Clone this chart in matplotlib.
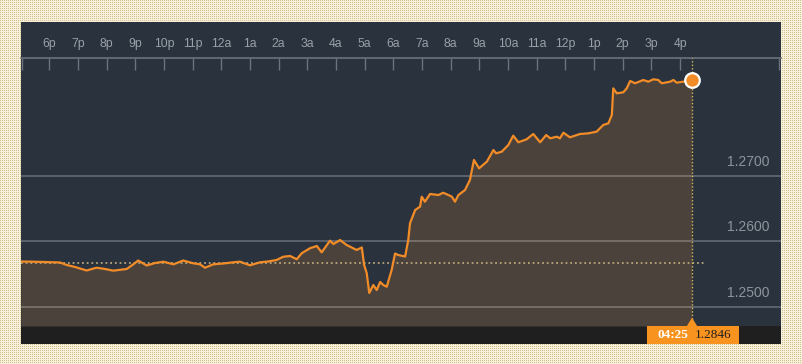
"""GBP-style intraday line chart with shaded area, dark theme."""
import matplotlib
matplotlib.use("Agg")
import matplotlib.pyplot as plt
import matplotlib.patches as mpatches
import matplotlib.transforms as mtrans
import numpy as np

# ── data: hours after 6p, price ───────────────────────────────────────────────
hours = [-0.99, -0.57, -0.15, 0.37, 0.61, 0.90, 1.30, 1.65, 1.94, 2.23,
         2.70, 2.93, 3.10, 3.40, 3.69, 3.98, 4.33, 4.67, 5.02, 5.26,
         5.43, 5.72, 6.06, 6.42, 6.65, 7.00, 7.35, 7.63, 7.93, 8.16,
         8.40, 8.63, 8.80, 9.09, 9.33, 9.50, 9.79, 9.91, 10.14, 10.37,
         10.72, 10.90, 10.98, 11.07, 11.16, 11.30, 11.42, 11.54, 11.65, 11.77,
         11.94, 12.06, 12.17, 12.41, 12.52, 12.58, 12.76, 12.93, 12.99, 13.10,
         13.28, 13.57, 13.74, 13.92, 14.04, 14.15, 14.27, 14.50, 14.67, 14.81,
         14.99, 15.26, 15.49, 15.58, 15.78, 16.01, 16.18, 16.36, 16.65, 16.88,
         17.12, 17.33, 17.47, 17.70, 17.81, 17.93, 18.16, 18.51, 18.80, 19.09,
         19.32, 19.50, 19.62, 19.67, 19.79, 20.02, 20.14, 20.26, 20.43, 20.72,
         20.89, 21.07, 21.24, 21.36, 21.65, 21.77, 21.88, 22.11, 22.417]
price = [1.25687, 1.25684, 1.25679, 1.25672, 1.25634, 1.25603, 1.25550, 1.25592, 1.25573, 1.25547,
         1.25573, 1.25644, 1.25702, 1.25626, 1.25664, 1.25684, 1.25644, 1.25702, 1.25660, 1.25644,
         1.25592, 1.25644, 1.25656, 1.25675, 1.25684, 1.25629, 1.25675, 1.25687, 1.25710, 1.25760,
         1.25771, 1.25721, 1.25812, 1.25889, 1.25924, 1.25827, 1.26005, 1.25954, 1.26015, 1.25939,
         1.25863, 1.25901, 1.25634, 1.25511, 1.25206, 1.25328, 1.25252, 1.25374, 1.25328, 1.25302,
         1.25557, 1.25809, 1.25786, 1.25763, 1.26015, 1.26270, 1.26473, 1.26524, 1.26676, 1.26600,
         1.26718, 1.26702, 1.26737, 1.26702, 1.26676, 1.26600, 1.26702, 1.26779, 1.26931, 1.27237,
         1.27110, 1.27211, 1.27389, 1.27339, 1.27363, 1.27466, 1.27608, 1.27507, 1.27553, 1.27634,
         1.27507, 1.27618, 1.27568, 1.27592, 1.27568, 1.27653, 1.27583, 1.27634, 1.27644, 1.27669,
         1.27771, 1.27797, 1.27924, 1.28331, 1.28255, 1.28270, 1.28331, 1.28443, 1.28408, 1.28458,
         1.28432, 1.28469, 1.28458, 1.28408, 1.28432, 1.28458, 1.28417, 1.28432, 1.2846]
prev_close = 1.2566
last_time = "04:25"
last_price = "1.2846"
hour_ticks = list(range(23))
hour_labels = ["6p", "7p", "8p", "9p", "10p", "11p", "12a", "1a", "2a", "3a", "4a", "5a",
               "6a", "7a", "8a", "9a", "10a", "11a", "12p", "1p", "2p", "3p", "4p"]
y_levels = [1.2500, 1.2600, 1.2700]

PAL = {"panel": "#2a323d", "strip": "#1f1f1f", "fill": "#4b423b", "line": "#f28c28",
       "tick": "#6c727b", "label": "#9aa0a8", "ylabel": "#8e949c", "dot": "#b9a57a",
       "vdot": "#d2b65c", "cream": "#f7f0da", "tan": "#d3bf8f", "box": "#f7931e"}

W, H = 803, 364
fig = plt.figure(figsize=(W / 100, H / 100), dpi=100)

# background with dotted paper texture + dark panel (pixel coords)
def rgb(h):
    return np.array(matplotlib.colors.to_rgb(h))
bg = np.empty((H, W, 3))
bg[:] = rgb(PAL["cream"])
bg[::2, ::2] = rgb(PAL["tan"])
bgax = fig.add_axes([0, 0, 1, 1])
bgax.imshow(bg, aspect="auto", interpolation="nearest", extent=(0, W, H, 0))
bgax.add_patch(mpatches.Rectangle((21, 22), 760, 322, color=PAL["panel"], lw=0))
bgax.add_patch(mpatches.Rectangle((21, 326), 760, 18, color=PAL["strip"], lw=0))
bgax.set_xlim(0, W); bgax.set_ylim(H, 0); bgax.axis("off")

# main axes: x 21..781, y 58..326 px
ax = fig.add_axes([21 / W, (H - 326) / H, 760 / W, 268 / H])
ax.patch.set_alpha(0)
x0, x1 = -0.987, 25.52
y0, y1 = 1.247023, 1.287939
ax.set_xlim(x0, x1); ax.set_ylim(y0, y1)

ax.fill_between(hours, price, y0, color=PAL["fill"], lw=0, zorder=1)
for lv in y_levels:
    ax.axhline(lv, color="white", alpha=0.27, lw=1.2, zorder=2)
    ax.annotate(f"{lv:.4f}", xy=(0.9855, lv), xycoords=("axes fraction", "data"),
                xytext=(0, 5), textcoords="offset points", ha="right", va="bottom",
                fontsize=10, color=PAL["ylabel"], family="Liberation Sans")
ax.plot([x0, 22.9], [prev_close, prev_close], color=PAL["dot"], lw=1.3,
        ls=(0, (1, 1.6)), zorder=3)
ax.axvline(hours[-1], color=PAL["vdot"], lw=1, ls=(0, (1, 1.5)), zorder=3)
ax.plot(hours, price, color=PAL["line"], lw=1.6, zorder=4, solid_joinstyle="round")
ax.plot(hours[-1], price[-1], "o", ms=10.5, mfc=PAL["line"], mec="white", mew=1.6,
        zorder=6, clip_on=False)

# top time axis
ax.xaxis.tick_top()
ax.set_xticks(hour_ticks)
ax.set_xticklabels(hour_labels, family="Liberation Sans")
ax.set_xticks([x0 + 0.02, 25.45], minor=True)
ax.tick_params(axis="x", which="both", direction="in", length=8.6, width=1,
               color=PAL["tick"], labelcolor=PAL["label"], labelsize=8.8, pad=6)
ax.set_yticks([])
for s in ["left", "right", "bottom"]:
    ax.spines[s].set_visible(False)
ax.spines["top"].set_color(PAL["tick"]); ax.spines["top"].set_linewidth(1.2)

# last value badge in the bottom strip
tr = mtrans.blended_transform_factory(ax.transData, ax.transAxes)
lx = hours[-1]
ax.add_patch(mpatches.Rectangle((lx - 1.556, -0.067), 3.21, 0.067, transform=tr,
                                color=PAL["box"], lw=0, clip_on=False, zorder=7))
ax.add_patch(mpatches.Polygon([(lx - 0.18, 0), (lx + 0.18, 0), (lx, 0.031)], closed=True,
                              transform=tr, color=PAL["box"], lw=0, clip_on=False, zorder=7))
ax.annotate(last_time, xy=(lx, -0.034), xycoords=tr, xytext=(-14, 0),
            textcoords="offset points", ha="center", va="center", fontsize=9.5,
            fontweight="bold", color="white", family="Liberation Serif", zorder=8)
ax.annotate(last_price, xy=(lx, -0.034), xycoords=tr, xytext=(15.5, 0),
            textcoords="offset points", ha="center", va="center", fontsize=9.5,
            color="#1e1e1e", family="Liberation Serif", zorder=8)

fig.savefig("out.png", dpi=100)
